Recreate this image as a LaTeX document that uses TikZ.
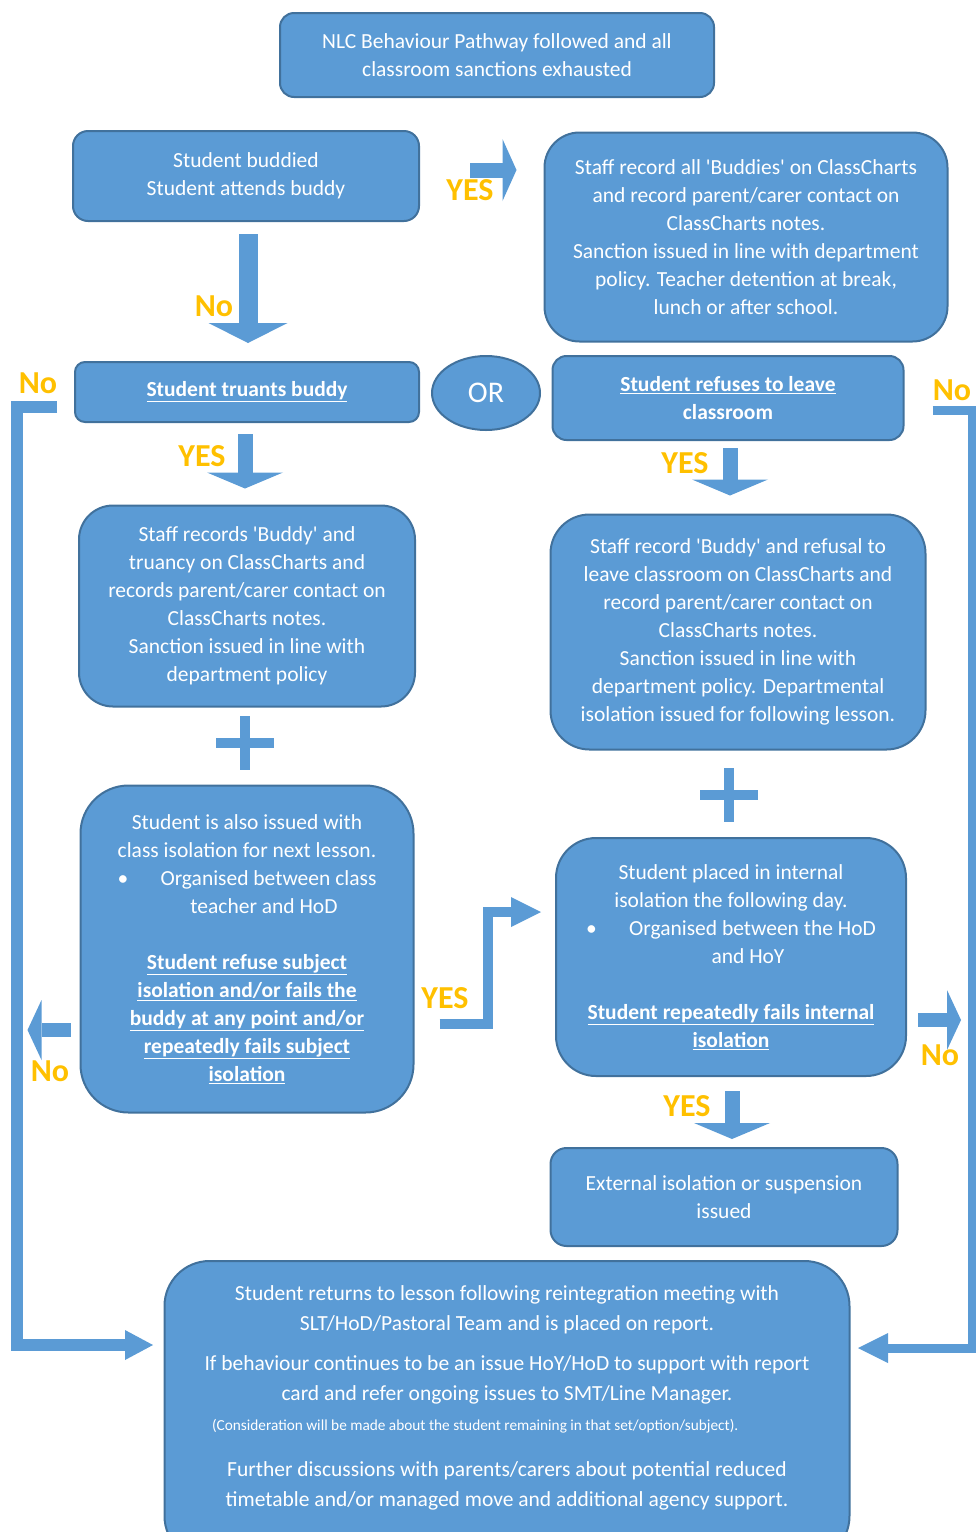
\documentclass[tikz,border=0pt]{standalone}
\usepackage{fontspec}
\setmainfont{Carlito}
\usepackage{tikz}
\usetikzlibrary{arrows.meta,positioning,shapes.geometric}

\definecolor{boxfill}{HTML}{5B9BD5}
\definecolor{boxline}{HTML}{41719C}
\definecolor{answer}{HTML}{FFC000}

\newcommand{\keytext}[1]{\underline{\textbf{#1}}}
\newcommand{\sq}{\textquotesingle}

\begin{document}
\begin{tikzpicture}[x=1pt,y=-1pt,
    box/.style={draw=boxline,fill=boxfill,line width=2pt,text=white,align=center,
                inner sep=0pt,font=\fontsize{21.5}{28}\selectfont},
    answer/.style={text=answer,font=\fontsize{32}{32}\selectfont\bfseries},
    flow/.style={draw=boxfill,line cap=butt,line join=miter},
    head/.style 2 args={-{Triangle[width=#1pt,length=#2pt,line width'=0pt]}}]

  \useasboundingbox (0,0) rectangle (976,1532);

    % boxes
    \node[box, minimum width=434, minimum height=84, rounded corners=14] (start) at (497,55)
        {NLC Behaviour Pathway followed and all\\classroom sanctions exhausted};
    \node[box, minimum width=346, minimum height=90, rounded corners=15] (buddied) at (246,176)
        {Student buddied\\Student attends buddy};
    \node[box, minimum width=403, minimum height=209, rounded corners=35] (buddies) at (746,237)
        {Staff record all \sq Buddies\sq{} on ClassCharts\\and record parent/carer contact on\\ClassCharts notes.\\
         Sanction issued in line with department\\policy. Teacher detention at break,\\lunch or after school.};
    \node[box, minimum width=344, minimum height=60, rounded corners=10] (truants) at (247,392)
        {\keytext{Student truants buddy}};
    \node[box, ellipse, minimum width=108, minimum height=74, font=\fontsize{30}{30}\selectfont] (or) at (486,393) {OR};
    \node[box, minimum width=351, minimum height=84, rounded corners=14] (refuses) at (728,398)
        {\keytext{Student refuses to leave}\\\textbf{classroom}};
    \node[box, minimum width=336, minimum height=201, rounded corners=34] (truancy) at (247,606)
        {Staff records \sq Buddy\sq{} and\\truancy on ClassCharts and\\records parent/carer contact on\\ClassCharts notes.\\
         Sanction issued in line with\\department policy};
    \node[box, minimum width=375, minimum height=235, rounded corners=39] (refusal) at (738,632)
        {Staff record \sq Buddy\sq{} and refusal to\\leave classroom on ClassCharts and\\record parent/carer contact on\\ClassCharts notes.\\
         Sanction issued in line with\\department policy. Departmental\\isolation issued for following lesson.};
    \node[box, minimum width=333, minimum height=327, rounded corners=48] (subjiso) at (247,949)
        {Student is also issued with\\class isolation for next lesson.\\
         \textbullet\hspace{1.5em}Organised between class\\\hspace*{34pt}teacher and HoD\\[28pt]
         \keytext{Student refuse subject}\\\keytext{isolation and/or fails the}\\\keytext{buddy at any point and/or}\\
         \keytext{repeatedly fails subject}\\\keytext{isolation}};
    \node[box, minimum width=350, minimum height=238, rounded corners=40] (internal) at (731,957)
        {Student placed in internal\\isolation the following day.\\
         \textbullet\hspace{1.5em}Organised between the HoD\\\hspace*{34pt}and HoY\\[28pt]
         \keytext{Student repeatedly fails internal}\\\keytext{isolation}};
    \node[box, minimum width=347, minimum height=98, rounded corners=16] (external) at (724,1197)
        {External isolation or suspension\\issued};
    \node[box, minimum width=685, minimum height=300, rounded corners=45, anchor=north] (report) at (507,1260) {};
    \node[align=center, text=white, font=\fontsize{21.5}{30}\selectfont] (reporttext) at (507,1398)
        {Student returns to lesson following reintegration meeting with\\
         SLT/HoD/Pastoral Team and is placed on report.\\[10pt]
         If behaviour continues to be an issue HoY/HoD to support with report\\
         card and refer ongoing issues to SMT/Line Manager.\\
         \makebox[590pt][l]{\fontsize{15.3}{29}\selectfont(Consideration will be made about the student remaining in that set/option/subject).}\\[16pt]
         Further discussions with parents/carers about potential reduced\\
         timetable and/or managed move and additional agency support.};

    % plus signs
    \foreach \px/\py in {245/743, 729/795}
        \draw[flow, line width=10pt] (\px-29,\py) -- (\px+29,\py) (\px,\py-27) -- (\px,\py+27);

    % block arrows
    \draw[flow, line width=15pt, head={62}{14}] ([xshift=50pt,yshift=6pt]buddied.east) -- ([xshift=-27pt,yshift=67pt]buddies.west);
    \draw[flow, line width=19pt, head={79}{20}] ([xshift=2pt,yshift=-12pt]buddied.south) -- ([xshift=1pt,yshift=18pt]truants.north);
    \draw[flow, line width=15pt, head={76}{16}] ([xshift=-2pt,yshift=-11pt]truants.south) -- ([xshift=-2pt,yshift=16pt]truancy.north);
    \draw[flow, line width=15pt, head={76}{16}] ([xshift=2pt,yshift=-7pt]refuses.south) -- ([xshift=-8pt,yshift=18pt]refusal.north);
    \draw[flow, line width=15pt, head={76}{16}] ([xshift=1pt,yshift=-14pt]internal.south) -- ([xshift=8pt,yshift=8pt]external.north);
    \draw[flow, line width=14pt, head={60}{14}] ([xshift=-9pt,yshift=-81pt]subjiso.west) -- ([xshift=-52pt,yshift=-81pt]subjiso.west);
    \draw[flow, line width=14pt, head={60}{14}] ([xshift=11pt,yshift=-63pt]internal.east) -- ([xshift=54pt,yshift=-63pt]internal.east);
    \draw[flow, line width=10pt, head={30}{30}] ([xshift=25pt,yshift=-75pt]subjiso.east) -- ++(48,0) |- ([xshift=-14pt,yshift=45pt]internal.west);

    % loops back to the report box
    \coordinate (leftin) at (153,1345);
    \coordinate (rightin) at (858,1348);
    \draw[flow, line width=12pt, head={30}{28}] ([xshift=-17pt,yshift=-15pt]truants.west) -- ++(-40,0) |- (leftin);
    \draw[flow, line width=9pt, head={30}{30}] ([xshift=28pt,yshift=-12pt]refuses.east) -- ++(40,0) |- (rightin);

    % answers
    \node[answer] (yes1) at (470,190) {YES};
    \node[answer] (no1) at (214,306) {No};
    \node[answer] (no2) at (38,383) {No};
    \node[answer] (yes2) at (202,456) {YES};
    \node[answer] (yes3) at (685,463) {YES};
    \node[answer] (no3) at (952,390) {No};
    \node[answer] (yes4) at (445,998) {YES};
    \node[answer] (no4) at (50,1071) {No};
    \node[answer] (no5) at (940,1055) {No};
    \node[answer] (yes5) at (687,1106) {YES};

\end{tikzpicture}
\end{document}
